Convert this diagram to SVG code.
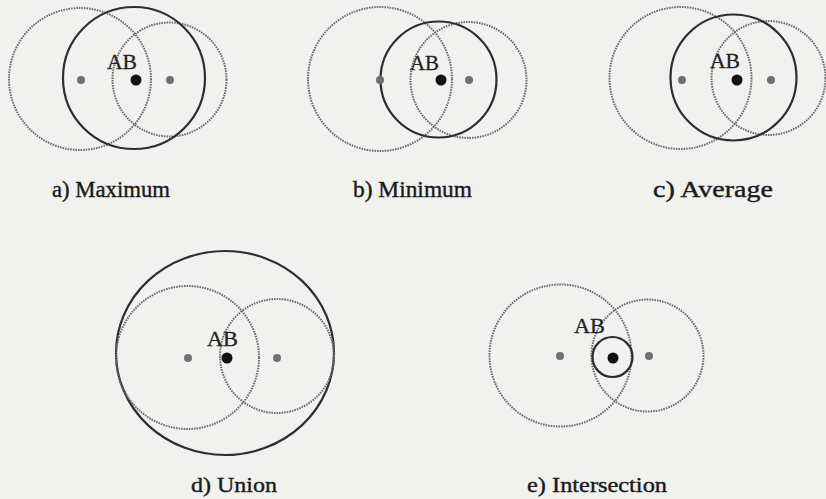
<svg xmlns="http://www.w3.org/2000/svg" width="826" height="499" viewBox="0 0 826 499">
<style>
.dot-c{fill:none;stroke:#6e6e6e;stroke-width:2;stroke-dasharray:1.6 1}
.solid-c{fill:none;stroke:#2e2e2e;stroke-width:2.2}
.sdot{fill:#707070}
.bdot{fill:#111}
.ab{font-family:"Liberation Serif",serif;font-size:21px;fill:#222;stroke:#222;stroke-width:0.3}
.lbl{font-family:"Liberation Serif",serif;font-size:23px;fill:#1a1a1a;stroke:#1a1a1a;stroke-width:0.4}
.lbl2{font-family:"Liberation Serif",serif;font-size:22px;fill:#1a1a1a;stroke:#1a1a1a;stroke-width:0.4}
</style>
<rect width="826" height="499" fill="#f1f1ef"/>
<g id="panel-a">
<circle class="dot-c" cx="80" cy="79" r="71"/>
<circle class="dot-c" cx="169.5" cy="79.5" r="57"/>
<circle class="solid-c" cx="134" cy="78" r="71"/>
<circle class="sdot" cx="81" cy="80" r="4"/>
<circle class="sdot" cx="170" cy="80" r="4"/>
<circle class="bdot" cx="136" cy="80" r="5.5"/>
<text class="ab" x="107" y="69" textLength="30" lengthAdjust="spacingAndGlyphs">AB</text>
<text class="lbl" x="52" y="197" textLength="118" lengthAdjust="spacingAndGlyphs">a) Maximum</text>
</g>
<g id="panel-b">
<circle class="dot-c" cx="380" cy="79" r="72"/>
<circle class="dot-c" cx="468.5" cy="80" r="58"/>
<circle class="solid-c" cx="438.5" cy="79.5" r="58"/>
<circle class="sdot" cx="380" cy="80" r="4"/>
<circle class="sdot" cx="469" cy="80" r="4"/>
<circle class="bdot" cx="441" cy="80" r="5.5"/>
<text class="ab" x="410" y="70" textLength="29" lengthAdjust="spacingAndGlyphs">AB</text>
<text class="lbl" x="353" y="197" textLength="119" lengthAdjust="spacingAndGlyphs">b) Minimum</text>
</g>
<g id="panel-c">
<circle class="dot-c" cx="680.5" cy="78" r="71"/>
<circle class="dot-c" cx="768.5" cy="78" r="57"/>
<circle class="solid-c" cx="733.5" cy="77.5" r="63"/>
<circle class="sdot" cx="682" cy="80" r="4"/>
<circle class="sdot" cx="771" cy="80" r="4"/>
<circle class="bdot" cx="737" cy="80" r="5.5"/>
<text class="ab" x="710" y="68" textLength="30" lengthAdjust="spacingAndGlyphs">AB</text>
<text class="lbl" x="653" y="197" textLength="120" lengthAdjust="spacingAndGlyphs">c) Average</text>
</g>
<g id="panel-d">
<ellipse class="solid-c" cx="225" cy="353" rx="109" ry="102"/>
<circle class="dot-c" cx="187.5" cy="357.5" r="71.5"/>
<circle class="dot-c" cx="277" cy="356" r="57"/>
<circle class="sdot" cx="188" cy="358" r="4"/>
<circle class="sdot" cx="277" cy="358" r="4"/>
<circle class="bdot" cx="227" cy="358" r="5.5"/>
<text class="ab" x="207" y="346" textLength="31" lengthAdjust="spacingAndGlyphs">AB</text>
<text class="lbl2" x="191" y="492" textLength="86" lengthAdjust="spacingAndGlyphs">d) Union</text>
</g>
<g id="panel-e">
<circle class="dot-c" cx="560.5" cy="355.5" r="71"/>
<circle class="dot-c" cx="647.5" cy="355.5" r="56"/>
<circle class="solid-c" cx="612.5" cy="357" r="20"/>
<circle class="sdot" cx="560" cy="356" r="4"/>
<circle class="sdot" cx="649" cy="356" r="4"/>
<circle class="bdot" cx="613" cy="358" r="5.5"/>
<text class="ab" x="574" y="333" textLength="31" lengthAdjust="spacingAndGlyphs">AB</text>
<text class="lbl2" x="527" y="492" textLength="140" lengthAdjust="spacingAndGlyphs">e) Intersection</text>
</g>
<g id="connectors"></g>
</svg>
